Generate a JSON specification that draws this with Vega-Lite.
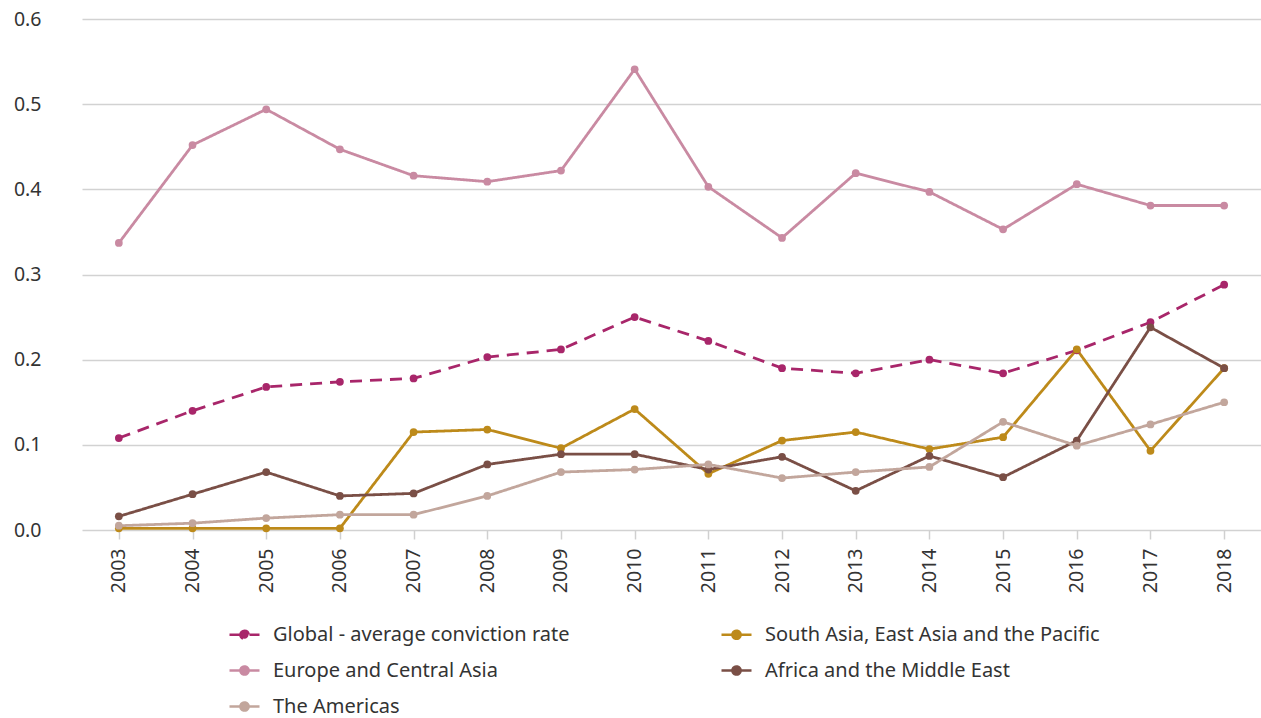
{
  "$schema": "https://vega.github.io/schema/vega-lite/v6.json",
  "width": 1179,
  "height": 511,
  "autosize": {"type": "none"},
  "padding": {"left": 82, "top": 19, "right": 0, "bottom": 188},
  "background": "white",
  "config": {
    "view": {"stroke": null},
    "font": "Noto Sans",
    "axis": {"labelFont": "Noto Sans", "labelFontSize": 19.5, "labelColor": "#333333", "title": null}
  },
  "datasets": {
    "rates": [
      {"year": "2003", "series": "Global - average conviction rate", "value": 0.108},
      {"year": "2004", "series": "Global - average conviction rate", "value": 0.140},
      {"year": "2005", "series": "Global - average conviction rate", "value": 0.168},
      {"year": "2006", "series": "Global - average conviction rate", "value": 0.174},
      {"year": "2007", "series": "Global - average conviction rate", "value": 0.178},
      {"year": "2008", "series": "Global - average conviction rate", "value": 0.203},
      {"year": "2009", "series": "Global - average conviction rate", "value": 0.212},
      {"year": "2010", "series": "Global - average conviction rate", "value": 0.250},
      {"year": "2011", "series": "Global - average conviction rate", "value": 0.222},
      {"year": "2012", "series": "Global - average conviction rate", "value": 0.190},
      {"year": "2013", "series": "Global - average conviction rate", "value": 0.184},
      {"year": "2014", "series": "Global - average conviction rate", "value": 0.200},
      {"year": "2015", "series": "Global - average conviction rate", "value": 0.184},
      {"year": "2016", "series": "Global - average conviction rate", "value": 0.211},
      {"year": "2017", "series": "Global - average conviction rate", "value": 0.244},
      {"year": "2018", "series": "Global - average conviction rate", "value": 0.288},
      {"year": "2003", "series": "Europe and Central Asia", "value": 0.337},
      {"year": "2004", "series": "Europe and Central Asia", "value": 0.452},
      {"year": "2005", "series": "Europe and Central Asia", "value": 0.494},
      {"year": "2006", "series": "Europe and Central Asia", "value": 0.447},
      {"year": "2007", "series": "Europe and Central Asia", "value": 0.416},
      {"year": "2008", "series": "Europe and Central Asia", "value": 0.409},
      {"year": "2009", "series": "Europe and Central Asia", "value": 0.422},
      {"year": "2010", "series": "Europe and Central Asia", "value": 0.541},
      {"year": "2011", "series": "Europe and Central Asia", "value": 0.403},
      {"year": "2012", "series": "Europe and Central Asia", "value": 0.343},
      {"year": "2013", "series": "Europe and Central Asia", "value": 0.419},
      {"year": "2014", "series": "Europe and Central Asia", "value": 0.397},
      {"year": "2015", "series": "Europe and Central Asia", "value": 0.353},
      {"year": "2016", "series": "Europe and Central Asia", "value": 0.406},
      {"year": "2017", "series": "Europe and Central Asia", "value": 0.381},
      {"year": "2018", "series": "Europe and Central Asia", "value": 0.381},
      {"year": "2003", "series": "South Asia, East Asia and the Pacific", "value": 0.002},
      {"year": "2004", "series": "South Asia, East Asia and the Pacific", "value": 0.002},
      {"year": "2005", "series": "South Asia, East Asia and the Pacific", "value": 0.002},
      {"year": "2006", "series": "South Asia, East Asia and the Pacific", "value": 0.002},
      {"year": "2007", "series": "South Asia, East Asia and the Pacific", "value": 0.115},
      {"year": "2008", "series": "South Asia, East Asia and the Pacific", "value": 0.118},
      {"year": "2009", "series": "South Asia, East Asia and the Pacific", "value": 0.096},
      {"year": "2010", "series": "South Asia, East Asia and the Pacific", "value": 0.142},
      {"year": "2011", "series": "South Asia, East Asia and the Pacific", "value": 0.066},
      {"year": "2012", "series": "South Asia, East Asia and the Pacific", "value": 0.105},
      {"year": "2013", "series": "South Asia, East Asia and the Pacific", "value": 0.115},
      {"year": "2014", "series": "South Asia, East Asia and the Pacific", "value": 0.095},
      {"year": "2015", "series": "South Asia, East Asia and the Pacific", "value": 0.109},
      {"year": "2016", "series": "South Asia, East Asia and the Pacific", "value": 0.212},
      {"year": "2017", "series": "South Asia, East Asia and the Pacific", "value": 0.093},
      {"year": "2018", "series": "South Asia, East Asia and the Pacific", "value": 0.190},
      {"year": "2003", "series": "Africa and the Middle East", "value": 0.016},
      {"year": "2004", "series": "Africa and the Middle East", "value": 0.042},
      {"year": "2005", "series": "Africa and the Middle East", "value": 0.068},
      {"year": "2006", "series": "Africa and the Middle East", "value": 0.040},
      {"year": "2007", "series": "Africa and the Middle East", "value": 0.043},
      {"year": "2008", "series": "Africa and the Middle East", "value": 0.077},
      {"year": "2009", "series": "Africa and the Middle East", "value": 0.089},
      {"year": "2010", "series": "Africa and the Middle East", "value": 0.089},
      {"year": "2011", "series": "Africa and the Middle East", "value": 0.071},
      {"year": "2012", "series": "Africa and the Middle East", "value": 0.086},
      {"year": "2013", "series": "Africa and the Middle East", "value": 0.046},
      {"year": "2014", "series": "Africa and the Middle East", "value": 0.087},
      {"year": "2015", "series": "Africa and the Middle East", "value": 0.062},
      {"year": "2016", "series": "Africa and the Middle East", "value": 0.105},
      {"year": "2017", "series": "Africa and the Middle East", "value": 0.238},
      {"year": "2018", "series": "Africa and the Middle East", "value": 0.190},
      {"year": "2003", "series": "The Americas", "value": 0.005},
      {"year": "2004", "series": "The Americas", "value": 0.008},
      {"year": "2005", "series": "The Americas", "value": 0.014},
      {"year": "2006", "series": "The Americas", "value": 0.018},
      {"year": "2007", "series": "The Americas", "value": 0.018},
      {"year": "2008", "series": "The Americas", "value": 0.040},
      {"year": "2009", "series": "The Americas", "value": 0.068},
      {"year": "2010", "series": "The Americas", "value": 0.071},
      {"year": "2011", "series": "The Americas", "value": 0.077},
      {"year": "2012", "series": "The Americas", "value": 0.061},
      {"year": "2013", "series": "The Americas", "value": 0.068},
      {"year": "2014", "series": "The Americas", "value": 0.074},
      {"year": "2015", "series": "The Americas", "value": 0.127},
      {"year": "2016", "series": "The Americas", "value": 0.099},
      {"year": "2017", "series": "The Americas", "value": 0.124},
      {"year": "2018", "series": "The Americas", "value": 0.150}
    ]
  },
  "data": {"name": "rates"},
  "encoding": {
    "x": {
      "field": "year", "type": "ordinal",
      "scale": {"type": "point", "padding": 0.5},
      "axis": {
        "labelAngle": -90, "labelAlign": "right", "labelBaseline": "middle",
        "labelPadding": 9, "tickSize": 9, "tickColor": "#d0d0d0", "tickWidth": 1.5,
        "domain": false, "grid": false
      }
    },
    "y": {
      "field": "value", "type": "quantitative",
      "scale": {"domain": [0, 0.6], "nice": false},
      "axis": {
        "values": [0, 0.1, 0.2, 0.3, 0.4, 0.5, 0.6], "format": ".1f",
        "ticks": false, "tickSize": 0, "domain": false, "labelPadding": 41,
        "grid": true, "gridColor": "#d2d2d2", "gridWidth": 1.5
      }
    },
    "color": {
      "field": "series", "type": "nominal",
      "scale": {
        "domain": ["Global - average conviction rate", "Europe and Central Asia", "The Americas", "South Asia, East Asia and the Pacific", "Africa and the Middle East"],
        "range": ["#a8266a", "#c98aa2", "#c2a69c", "#bd8a1a", "#7a4f46"]
      },
      "legend": {
        "title": null, "orient": "none", "legendX": 146, "legendY": 599,
        "columns": 2, "columnPadding": 146, "rowPadding": 9,
        "labelFont": "Noto Sans", "labelFontSize": 20, "labelColor": "#333333", "labelLimit": 600,
        "labelOffset": 12, "symbolSize": 900, "symbolStrokeWidth": 2.6,
        "symbolType": "M-1,0L1,0M-0.27,0A0.27,0.27 0 1,1 0.27,0A0.27,0.27 0 1,1 -0.27,0Z"
      }
    }
  },
  "layer": [
    {
      "mark": {"type": "line", "strokeWidth": 2.8},
      "encoding": {
        "strokeDash": {
          "field": "series", "type": "nominal",
          "scale": {
            "domain": ["Global - average conviction rate", "Europe and Central Asia", "The Americas", "South Asia, East Asia and the Pacific", "Africa and the Middle East"],
            "range": [[12, 8], [1, 0], [1, 0], [1, 0], [1, 0]]
          },
          "legend": {
            "title": null, "orient": "none", "legendX": 146, "legendY": 599,
            "columns": 2, "columnPadding": 146, "rowPadding": 9,
            "labelFont": "Noto Sans", "labelFontSize": 20, "labelColor": "#333333", "labelLimit": 600,
            "labelOffset": 12, "symbolSize": 900, "symbolStrokeWidth": 2.6,
            "symbolType": "M-1,0L1,0M-0.27,0A0.27,0.27 0 1,1 0.27,0A0.27,0.27 0 1,1 -0.27,0Z"
          }
        }
      }
    },
    {
      "mark": {"type": "point", "filled": true, "size": 60, "opacity": 1}
    }
  ]
}
